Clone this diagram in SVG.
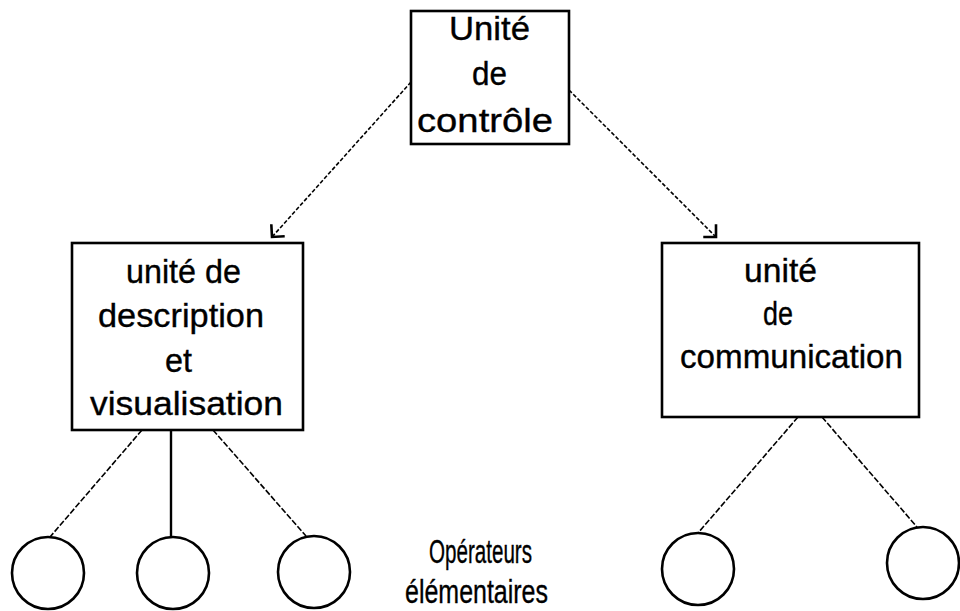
<svg xmlns="http://www.w3.org/2000/svg" width="960" height="611" viewBox="0 0 960 611">
  <style>
    .box { fill: #fff; stroke: #000; stroke-width: 2.6; }
    .op { fill: none; stroke: #000; stroke-width: 2.6; }
    .lbl { font-family: "Liberation Sans", Arial, sans-serif; font-size: 33px; fill: #000; stroke: #000; stroke-width: 0.35; }
    .link { fill: none; stroke: #000; stroke-width: 1.6; stroke-dasharray: 6 2; }
    .solid { fill: none; stroke: #000; stroke-width: 2.4; }
    .arrow { fill: none; stroke: #000; stroke-width: 1.6; stroke-dasharray: 4 2; }
  </style>
  <defs>
    <marker id="head" markerUnits="userSpaceOnUse" markerWidth="16" markerHeight="24" refX="12" refY="12" orient="auto" viewBox="0 0 16 24">
      <path d="M 3 3 L 12 12 L 3 21" fill="none" stroke="#000" stroke-width="2.6"/>
    </marker>
  </defs>
  <rect width="960" height="611" fill="#fff"/>

  <!-- connectors -->
  <g id="connectors">
    <line class="arrow" x1="411" y1="82" x2="272" y2="237" marker-end="url(#head)"/>
    <line class="arrow" x1="569" y1="90" x2="716" y2="237" marker-end="url(#head)"/>
    <line class="link" x1="142" y1="430" x2="50" y2="537"/>
    <line class="solid" x1="171" y1="430" x2="171" y2="537"/>
    <line class="link" x1="213" y1="430" x2="306" y2="536"/>
    <line class="link" x1="798" y1="417" x2="698" y2="533"/>
    <line class="link" x1="822" y1="417" x2="917" y2="527"/>
  </g>

  <!-- control unit -->
  <g id="controle">
    <rect class="box" x="411" y="11" width="158" height="133"/>
    <text class="lbl" x="449" y="40" textLength="81" lengthAdjust="spacingAndGlyphs">Unité</text>
    <text class="lbl" x="472" y="85" textLength="35" lengthAdjust="spacingAndGlyphs">de</text>
    <text class="lbl" x="417" y="132" textLength="136" lengthAdjust="spacingAndGlyphs">contrôle</text>
  </g>

  <!-- description / visualisation unit -->
  <g id="description">
    <rect class="box" x="72" y="243" width="231" height="187"/>
    <text class="lbl" x="126" y="283" textLength="115" lengthAdjust="spacingAndGlyphs">unité de</text>
    <text class="lbl" x="98" y="327" textLength="166" lengthAdjust="spacingAndGlyphs">description</text>
    <text class="lbl" x="165" y="372" textLength="27" lengthAdjust="spacingAndGlyphs">et</text>
    <text class="lbl" x="90" y="415" textLength="193" lengthAdjust="spacingAndGlyphs">visualisation</text>
  </g>

  <!-- communication unit -->
  <g id="communication">
    <rect class="box" x="662" y="243" width="257" height="174"/>
    <text class="lbl" x="744" y="282" textLength="73" lengthAdjust="spacingAndGlyphs">unité</text>
    <text class="lbl" x="763" y="325" textLength="30" lengthAdjust="spacingAndGlyphs">de</text>
    <text class="lbl" x="680" y="368" textLength="223" lengthAdjust="spacingAndGlyphs">communication</text>
  </g>

  <!-- elementary operators -->
  <g id="op1"><circle class="op" cx="48" cy="573" r="36"/></g>
  <g id="op2"><circle class="op" cx="173" cy="573" r="36"/></g>
  <g id="op3"><circle class="op" cx="314" cy="572" r="36"/></g>
  <g id="op4"><circle class="op" cx="698" cy="569" r="36"/></g>
  <g id="op5"><circle class="op" cx="923" cy="563" r="36"/></g>

  <g id="legende">
    <text class="lbl" x="429" y="563" textLength="103" lengthAdjust="spacingAndGlyphs">Opérateurs</text>
    <text class="lbl" x="405" y="603" textLength="143" lengthAdjust="spacingAndGlyphs">élémentaires</text>
  </g>
</svg>
